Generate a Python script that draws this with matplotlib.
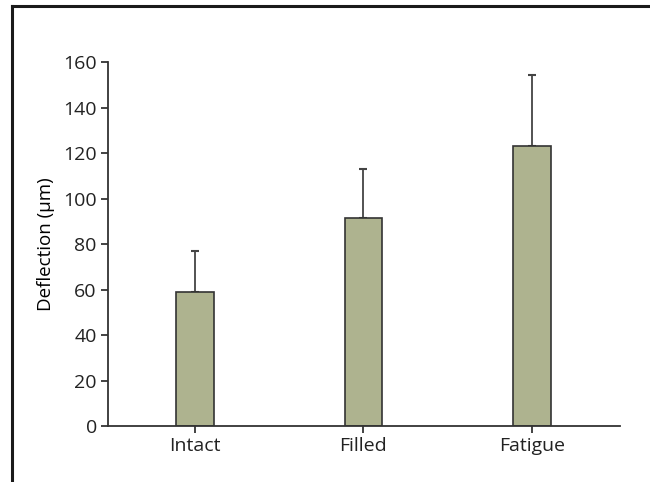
import matplotlib.pyplot as plt
from matplotlib.lines import Line2D

# data
categories = ["Intact", "Filled", "Fatigue"]
means = [59, 91.5, 123]
errors = [18, 21.5, 31.5]

plt.rcParams['font.family'] = ['Open Sans', 'DejaVu Sans']

fig = plt.figure(figsize=(6.5, 4.82), dpi=100)
ax = fig.add_axes([0.166, 0.116, 0.788, 0.755])

x = range(len(categories))
ax.bar(x, means, width=0.225, color='#aeb38f', edgecolor='#333333', linewidth=1.2, zorder=2)
ax.errorbar(x, means, yerr=[[0] * len(errors), errors], fmt='none',
            ecolor='#444444', elinewidth=1.3, capsize=3, capthick=1.5, zorder=1)

ax.set_ylim(0, 160)
ax.set_xlim(-0.516, 2.522)
ax.set_yticks(range(0, 161, 20))
ax.set_xticks(list(x))
ax.set_xticklabels(categories)
ax.set_ylabel("Deflection (\u03bcm)", fontsize=13.5, labelpad=6)
ax.tick_params(labelsize=14, colors='#222222', width=1.2, length=5, pad=3)
ax.spines['top'].set_visible(False)
ax.spines['right'].set_visible(False)
for s in ['left', 'bottom']:
    ax.spines[s].set_linewidth(1.3)
    ax.spines[s].set_color('#333333')

# outer frame
fig.add_artist(Line2D([12 / 650, 1], [1 - 6 / 482, 1 - 6 / 482], color='#1a1a1a', lw=2.2))
fig.add_artist(Line2D([12 / 650, 12 / 650], [0, 1 - 6 / 482], color='#1a1a1a', lw=2.2))

fig.savefig("out.png", dpi=100)
